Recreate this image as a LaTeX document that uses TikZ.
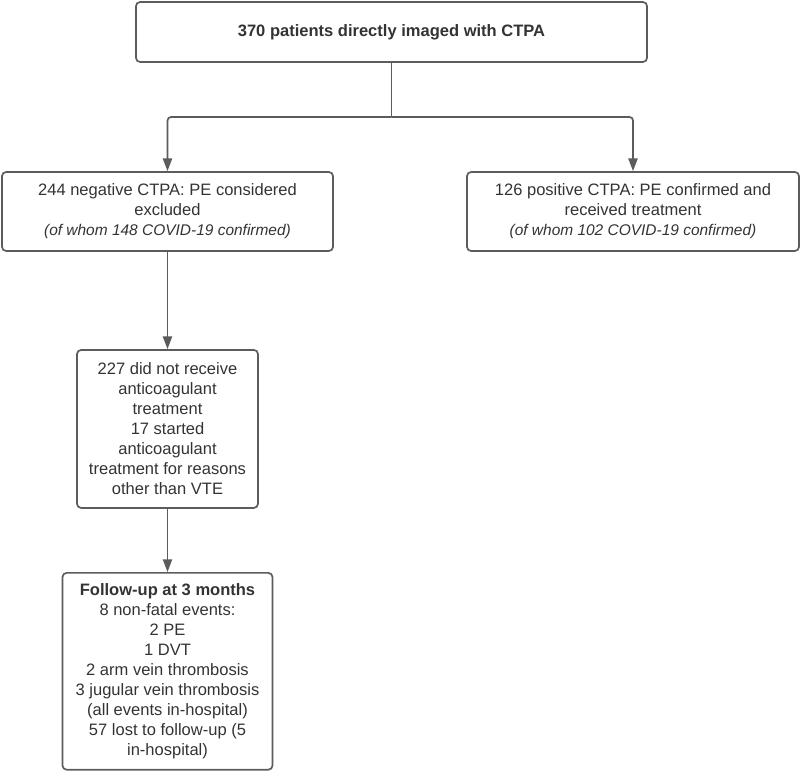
\documentclass[tikz,border=0pt]{standalone}
\usepackage{fontspec}
\setmainfont{Liberation Sans}
\usetikzlibrary{arrows.meta, positioning}
\definecolor{linegray}{HTML}{5C5C5C}
\definecolor{textgray}{HTML}{333333}

\begin{document}
\begin{tikzpicture}[x=0.025cm, y=-0.025cm, >={Triangle[length=9pt, width=6.5pt]},
    box/.style={draw=linegray, line width=1.2pt, rectangle, rounded corners=3pt, align=center, text=textgray, inner sep=0pt, font=\fontsize{11.75}{14.2}\selectfont},
    link/.style={draw=linegray, line width=1.2pt, rounded corners=2.5pt}]
    \useasboundingbox (0,0) rectangle (800,773);
    \node[box, minimum width=12.775cm, minimum height=1.5cm, font=\bfseries\fontsize{11.75}{14.2}\selectfont] (all) at (391.5,32) {370 patients directly imaged with CTPA};
    \node[box, minimum width=8.275cm, minimum height=1.975cm] (neg) at (167.5,211.5) {244 negative CTPA: PE considered\\excluded\\{\fontsize{11}{14.2}\selectfont\itshape (of whom 148 COVID-19 confirmed)}};
    \node[box, minimum width=8.3cm, minimum height=1.975cm] (pos) at (633,211.5) {126 positive CTPA: PE confirmed and\\received treatment\\{\fontsize{11}{14.2}\selectfont\itshape (of whom 102 COVID-19 confirmed)}};
    \node[box, minimum width=4.525cm, minimum height=3.95cm, below=2.43cm of neg] (noac) {227 did not receive\\anticoagulant\\treatment\\17 started\\anticoagulant\\treatment for reasons\\other than VTE};
    \node[box, minimum width=5.25cm, minimum height=4.92cm, below=1.58cm of noac] (fu) {\textbf{Follow-up at 3 months}\\8 non-fatal events:\\2 PE\\1 DVT\\2 arm vein thrombosis\\3 jugular vein thrombosis\\(all events in-hospital)\\57 lost to follow-up (5\\in-hospital)};
    \coordinate (split) at (391.5,117);
    \draw[link] (all) -- (split);
    \draw[link, ->] (split) -| (neg);
    \draw[link, ->] (split) -| (pos);
    \draw[link, ->] (neg) -- (noac);
    \draw[link, ->] (noac) -- (fu);
\end{tikzpicture}
\end{document}
